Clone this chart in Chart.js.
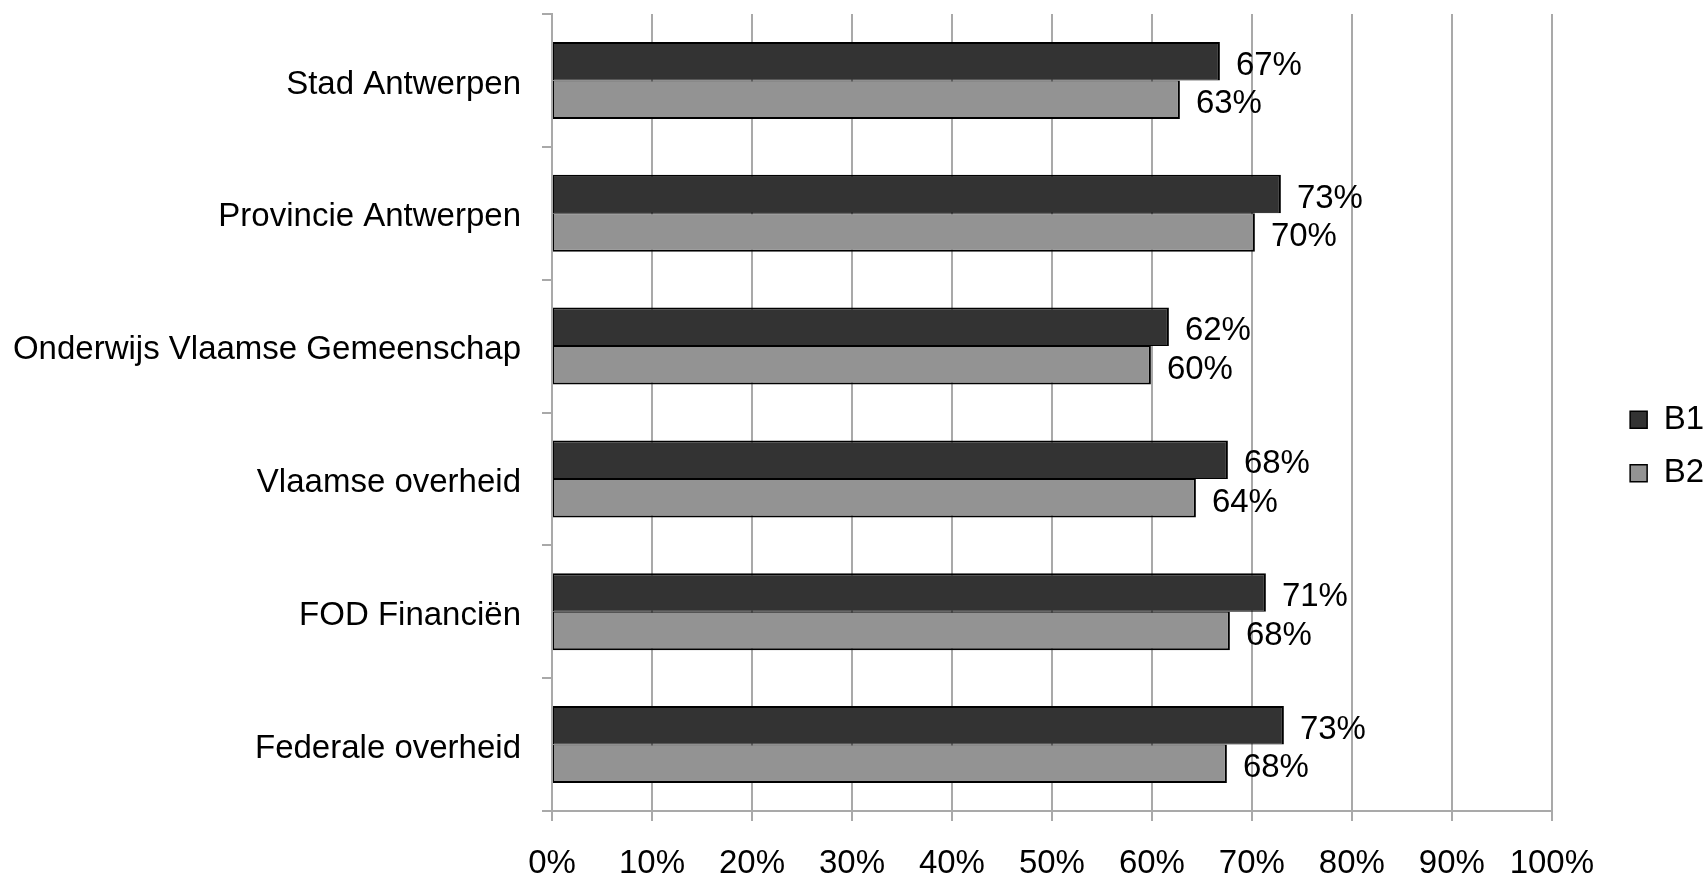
<!DOCTYPE html>
<html>
<head>
<meta charset="utf-8">
<script src="https://cdn.jsdelivr.net/npm/chart.js@4/dist/chart.umd.min.js"></script>
<style>
  html, body { margin: 0; padding: 0; background: #fff; }
  canvas { display: block; }
</style>
</head>
<body>
<canvas id="myChart" width="1703" height="877"></canvas>
<script>
// data
const categories = [
  'Stad Antwerpen',
  'Provincie Antwerpen',
  'Onderwijs Vlaamse Gemeenschap',
  'Vlaamse overheid',
  'FOD Financiën',
  'Federale overheid'
];
const seriesNames = ['B1', 'B2'];
const b1Values = [66.8, 72.9, 61.7, 67.6, 71.4, 73.2];
const b2Values = [62.8, 70.3, 59.9, 64.4, 67.8, 67.5];
const xTicks = [0, 10, 20, 30, 40, 50, 60, 70, 80, 90, 100];

const FONT = '"Liberation Sans", Arial, sans-serif';
const FSIZE = 33;
const GRID = '#a9a9a9';

// value labels next to each bar
const barLabels = {
  id: 'barLabels',
  afterDatasetsDraw(chart) {
    const ctx = chart.ctx;
    ctx.save();
    ctx.font = FSIZE + 'px ' + FONT;
    ctx.fillStyle = '#000';
    ctx.textAlign = 'left';
    ctx.textBaseline = 'middle';
    chart.data.datasets.forEach((ds, i) => {
      chart.getDatasetMeta(i).data.forEach((bar, j) => {
        ctx.fillText(Math.round(ds.data[j]) + '%', bar.x + 16, bar.y + 4.5);
      });
    });
    ctx.restore();
  }
};

// push the legend out towards the right edge, like the original
const legendShift = {
  id: 'legendShift',
  afterLayout(chart, args, opts) {
    const lg = chart.legend;
    if (!lg) return;
    lg.left += opts.x; lg.right += opts.x;
    lg.top += opts.y; lg.bottom += opts.y;
  }
};

window.onload = function() {
  const data = {
    labels: categories,
    datasets: [{
      label: seriesNames[0],
      data: b1Values,
      backgroundColor: '#333333',
      borderColor: '#000000',
      borderWidth: { top: 2, right: 2, bottom: 1, left: 1 },
      borderSkipped: false
    }, {
      label: seriesNames[1],
      data: b2Values,
      backgroundColor: '#939393',
      borderColor: '#000000',
      borderWidth: { top: 1, right: 2, bottom: 2, left: 1 },
      borderSkipped: false
    }]
  };

  const config = {
    type: 'bar',
    data: data,
    options: {
      indexAxis: 'y',
      responsive: false,
      animation: false,
      devicePixelRatio: 1,
      categoryPercentage: 0.58,
      barPercentage: 1,
      layout: { padding: { left: 0, top: 14, right: 47, bottom: 0 } },
      scales: {
        x: {
          min: 0,
          max: 100,
          afterBuildTicks(scale) {
            scale.ticks = xTicks.map(v => ({ value: v }));
          },
          afterFit(scale) {
            scale.height = 66;
          },
          ticks: {
            callback: v => v + '%',
            color: '#000',
            padding: 23.5,
            maxRotation: 0,
            font: { family: FONT, size: FSIZE }
          },
          grid: { color: GRID, lineWidth: 2, tickLength: 10 },
          border: { color: GRID, width: 2 }
        },
        y: {
          afterFit(scale) {
            scale.width = 552;
            scale.paddingTop = 0;
            scale.paddingBottom = 0;
          },
          ticks: {
            color: '#000',
            padding: 21,
            labelOffset: 4,
            font: { family: FONT, size: FSIZE }
          },
          grid: { drawOnChartArea: false, color: GRID, lineWidth: 2, tickLength: 10 },
          border: { color: GRID, width: 2 }
        }
      },
      plugins: {
        legend: {
          position: 'right',
          labels: {
            boxWidth: 17,
            boxHeight: 17,
            padding: 20.3,
            color: '#000',
            font: { family: FONT, size: FSIZE }
          }
        },
        legendShift: { x: 58, y: 1 },
        tooltip: { enabled: false }
      }
    },
    plugins: [barLabels, legendShift]
  };

  const ctx = document.getElementById('myChart').getContext('2d');
  new Chart(ctx, config);
};
</script>
</body>
</html>
